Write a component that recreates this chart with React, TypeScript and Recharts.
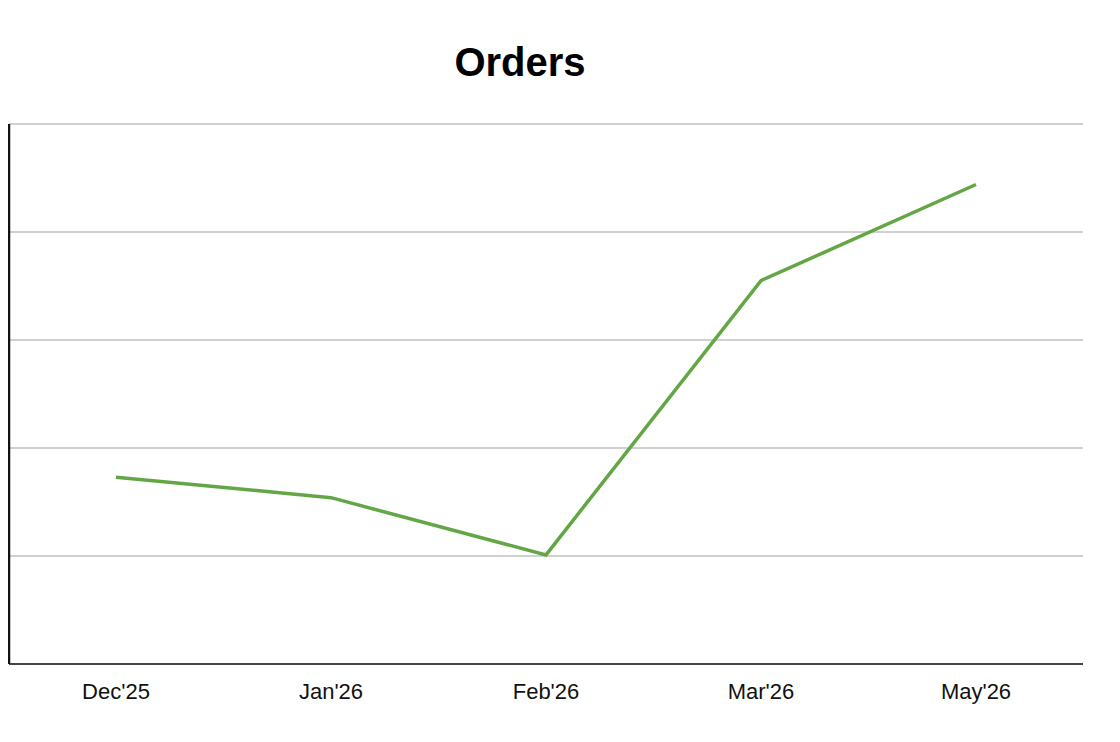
import { CartesianGrid, Line, LineChart, XAxis, YAxis } from "recharts";

const months = ["Dec'25", "Jan'26", "Feb'26", "Mar'26", "May'26"];
const orders = [173, 154, 101, 355, 444];
const yTicks = [0, 100, 200, 300, 400, 500];

const data = months.map((m, i) => ({ month: m, orders: orders[i] }));

const FONT = '"Liberation Sans", Arial, sans-serif';

// y ticks are used only for the grid, the reference shows no labels
const NoTick = () => <g />;

export default function App() {
  return (
    <div style={{ position: "relative", width: 1090, height: 720, fontFamily: FONT }}>
      <div
        style={{
          position: "absolute",
          left: 0,
          top: 34,
          width: 1024,
          textAlign: "center",
          fontSize: 40,
          lineHeight: "40px",
          fontWeight: 700,
          color: "#000",
        }}
      >
        Orders
      </div>
      <LineChart
        width={1090}
        height={720}
        data={data}
        margin={{ top: 116, right: 15, left: 0, bottom: 14 }}
      >
        <CartesianGrid stroke="#d0d0d0" strokeWidth={2} vertical={false} />
        <XAxis
          dataKey="month"
          height={50}
          padding={{ left: 107, right: 107 }}
          tickLine={false}
          tickSize={0}
          tickMargin={19}
          axisLine={{ stroke: "#444", strokeWidth: 2 }}
          tick={{ fill: "#111", fontSize: 22, fontFamily: FONT }}
        />
        <YAxis
          domain={[0, 500]}
          ticks={yTicks}
          width={1}
          tick={NoTick}
          tickLine={false}
          axisLine={{ stroke: "#111", strokeWidth: 2.5 }}
        />
        <Line
          type="linear"
          dataKey="orders"
          stroke="#62a645"
          strokeWidth={3.5}
          dot={false}
          activeDot={false}
          isAnimationActive={false}
        />
      </LineChart>
    </div>
  );
}
